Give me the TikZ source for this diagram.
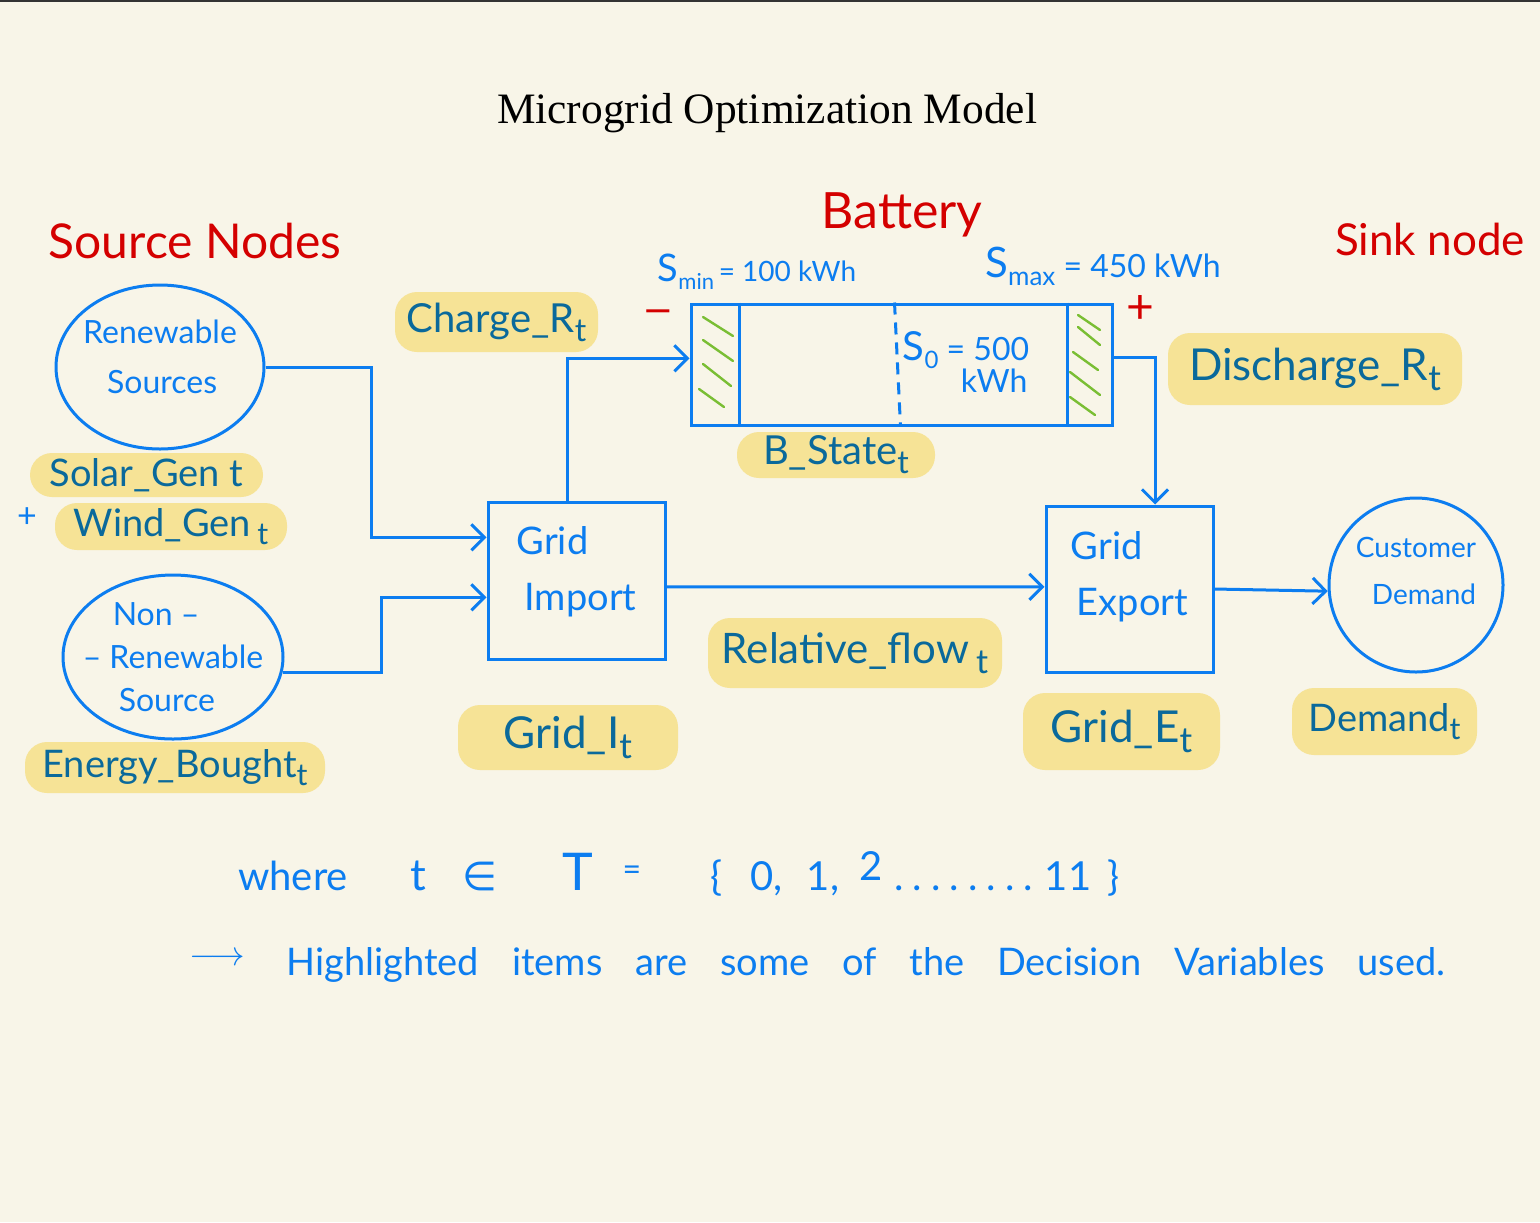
\documentclass[tikz,border=0pt]{standalone}
\usepackage{fontspec}
\usepackage{graphicx}
\setmainfont{Liberation Serif}
\newfontfamily\hand{Lato}
\newfontfamily\symfont{DejaVu Sans}
\usetikzlibrary{shapes.geometric,arrows.meta,calc}
\definecolor{bg}{RGB}{248,245,232}
\definecolor{ink}{RGB}{12,125,240}
\definecolor{hlfill}{RGB}{246,227,150}
\definecolor{hltext}{RGB}{10,105,155}
\definecolor{redink}{RGB}{212,0,0}
\definecolor{hatch}{RGB}{122,190,52}
\newcommand\hsz[1]{\fontsize{#1}{#1}\selectfont}
\newcommand\lowsub[1]{\raisebox{-0.45ex}{\scalebox{0.8}{#1}}}
\newcommand\dropby[1]{\rule[-#1]{0pt}{0pt}}
\tikzset{
  lbl/.style={inner sep=0pt, anchor=base},
  redlbl/.style={lbl, text=redink, font=\hand\hsz{24}},
  bluelbl/.style={lbl, text=ink},
  hl/.style={fill=hlfill, rounded corners=11pt, text=hltext, inner sep=0pt, font=\hand\hsz{20}},
  boxnode/.style={rectangle, draw=ink, line width=1.5pt, text=ink, align=left, inner sep=0pt},
  srcnode/.style={ellipse, draw=ink, line width=1.5pt, text=ink, align=left, inner sep=0pt},
  flow/.style={draw=ink, line width=1.5pt, -{Straight Barb[length=6.5pt,width=13pt]}},
  hatchline/.style={draw=hatch, line width=1.2pt, line cap=round},
  partline/.style={draw=ink, line width=1.5pt},
}
\begin{document}
\begin{tikzpicture}[x=0.5pt,y=-0.5pt]
\fill[bg] (0,0) rectangle (1540,1222);
\useasboundingbox (0,0) rectangle (1540,1222);
\fill[black!80] (0,0) rectangle (1540,2);

% titles
\node[lbl, font=\hsz{21.7}] (title) at (767,123) {Microgrid Optimization Model};
\node[redlbl] (srcnodes) at (195,258) {Source Nodes};
\node[redlbl, font=\hand\hsz{25}] (battery) at (902,228) {Battery};
\node[redlbl, font=\hand\hsz{22}] (sink) at (1430,255) {Sink node};

% source nodes
\node[srcnode, minimum width=104pt, minimum height=82pt, inner xsep=-5pt, font=\hand\fontsize{16}{25}\selectfont] (ren) at (160,367) {Renewable\\\hspace*{12pt}Sources\dropby{10pt}};
\node[srcnode, minimum width=110pt, minimum height=82pt, inner xsep=-8pt, inner ysep=-3pt, font=\hand\fontsize{16}{21.5}\selectfont] (nonren) at (173,657) {\hspace*{15pt}Non –\\– Renewable\\\hspace*{18pt}Source};

% grid boxes
\node[boxnode, minimum width=88.5pt, minimum height=78.5pt, font=\hand\fontsize{19}{28}\selectfont] (gi) at (576.5,580.5) {Grid\\\hspace*{4pt}Import\dropby{12pt}};
\node[boxnode, minimum width=83.5pt, minimum height=83pt, font=\hand\fontsize{19}{28}\selectfont] (ge) at (1129.5,589) {Grid\\\hspace*{3pt}Export\dropby{16pt}};

% customer demand
\node[circle, draw=ink, line width=1.5pt, minimum size=87pt, inner sep=0pt, text=ink, align=left, font=\hand\fontsize{14}{23.5}\selectfont] (cd) at (1416,585) {Customer\\\hspace*{8pt}Demand\dropby{14pt}};

% battery
\node[rectangle, draw=ink, line width=1.5pt, minimum width=210.5pt, minimum height=60.5pt, inner sep=0pt] (bat) at (901.5,364.5) {};
\draw[partline] ($(bat.north west)+(50,0)$) -- ($(bat.south west)+(50,0)$);
\draw[partline] ($(bat.north east)+(-46,0)$) -- ($(bat.south east)+(-46,0)$);
\draw[partline, dash pattern=on 6pt off 4pt] ($(bat.north west)+(205,0)$) -- ($(bat.south west)+(211,0)$);
% hatches left
\draw[hatchline] (703,317) -- (733,336);
\draw[hatchline] (703,340) -- (733,361);
\draw[hatchline] (703,364) -- (731,386);
\draw[hatchline] (699,389) -- (724,407);
% hatches right
\draw[hatchline] (1078,315) -- (1100,330);
\draw[hatchline] (1078,327) -- (1100,345);
\draw[hatchline] (1073,352) -- (1098,370);
\draw[hatchline] (1070,372) -- (1100,395);
\draw[hatchline] (1070,397) -- (1095,415);

\node[bluelbl, font=\hand\hsz{14}] (smin) at (757,281) {{\hsz{19}S}\raisebox{-4pt}{\hsz{11}min}\,= 100 kWh};
\node[bluelbl, font=\hand\hsz{16}] (smax) at (1103,277) {{\hsz{21}S}\raisebox{-4pt}{\hsz{13}max} = 450 kWh};
\node[text=ink, inner sep=0pt, align=left, font=\hand\fontsize{16}{16}\selectfont] (s0) at (966,362) {{\hsz{20}S}\raisebox{-4pt}{\hsz{12}0} = 500\\\hspace*{29pt}kWh};
\node[lbl, text=redink, font=\hand\bfseries\hsz{17}] (minus) at (658,321) {—};
\node[lbl, text=redink, font=\hand\hsz{24}] (plus) at (1140,323) {+};
\node[lbl, text=ink, font=\hand\hsz{17}] (plussrc) at (27,527) {+};

% highlights
\node[hl, minimum width=101.5pt, minimum height=30pt] (chg) at (496.5,322) {Charge\_R\lowsub{t}};
\node[hl, minimum width=116.5pt, minimum height=22pt, font=\hand\hsz{19}] (solar) at (146.5,475) {Solar\_Gen t};
\node[hl, minimum width=116pt, minimum height=23.5pt, font=\hand\hsz{19}] (wind) at (171,526.5) {Wind\_Gen\,\lowsub{t}};
\node[hl, minimum width=150pt, minimum height=25.5pt, font=\hand\hsz{19}] (energy) at (175,767.5) {Energy\_Bought\lowsub{t}};
\node[hl, minimum width=99pt, minimum height=23pt] (bstate) at (836,455) {B\_State\lowsub{t}};
\node[hl, minimum width=147pt, minimum height=36pt, font=\hand\hsz{22}] (dis) at (1315,369) {Discharge\_R\lowsub{t}};
\node[hl, minimum width=147pt, minimum height=35pt, font=\hand\hsz{21}] (rel) at (855,653) {Relative\_flow\,\lowsub{t}};
\node[hl, minimum width=110pt, minimum height=32.5pt, font=\hand\hsz{22}] (gridi) at (568,737.5) {Grid\_I\lowsub{t}};
\node[hl, minimum width=98.5pt, minimum height=38.5pt, font=\hand\hsz{22}] (gride) at (1121.5,731.5) {Grid\_E\lowsub{t}};
\node[hl, minimum width=92.5pt, minimum height=33.5pt, font=\hand\hsz{19}] (dem) at (1384.5,721.5) {Demand\lowsub{t}};

% connectors
\draw[flow] (ren.east) -- ++(106,0) |- ($(gi.north west)!0.23!(gi.south west)$);
\draw[flow] (nonren.-8) -- ++(99,0) |- ($(gi.north west)!0.605!(gi.south west)$);
\draw[flow] ($(gi.north west)!0.45!(gi.north east)$) |- ($(bat.north west)!0.45!(bat.south west)$);
\draw[flow] ($(bat.north east)!0.44!(bat.south east)$) -| ($(ge.north west)!0.65!(ge.north east)$);
\draw[flow] ($(gi.north east)!0.54!(gi.south east)$) -- ($(ge.north west)!0.487!(ge.south west)$);
\draw[flow] (ge.east) -- (cd.184);

% bottom notes
\node[bluelbl, font=\hand\hsz{20}] (where) at (293,890) {where};
\node[bluelbl, font=\hand\hsz{22}] (tvar) at (418,890) {t};
\node[bluelbl, font=\symfont\hsz{20}] (inset) at (480,890) {∈};
\node[bluelbl, font=\hand\hsz{26}] (Tset) at (578,890) {T};
\node[bluelbl, font=\hand\hsz{16}] (eq) at (632,880) {=};
\node[bluelbl, font=\hand\hsz{20}] (setvals) at (915,890) {\{\hspace{14pt}0,\hspace{12pt}1,\hspace{10pt}\raisebox{5pt}{2}\hspace{6pt}.\hspace{4.5pt}.\hspace{4.5pt}.\hspace{4.5pt}.\hspace{4.5pt}.\hspace{4.5pt}.\hspace{4.5pt}.\hspace{4.5pt}.\hspace{6pt}11\hspace{8pt}\}};
\node[bluelbl, font=\hsz{18}] (arrowsym) at (217,965) {$\longrightarrow$};
\node[bluelbl, font=\hand\hsz{19}] (note) at (866,975) {{\spaceskip=16.4pt Highlighted items are some of the Decision Variables used.}};
\end{tikzpicture}
\end{document}
